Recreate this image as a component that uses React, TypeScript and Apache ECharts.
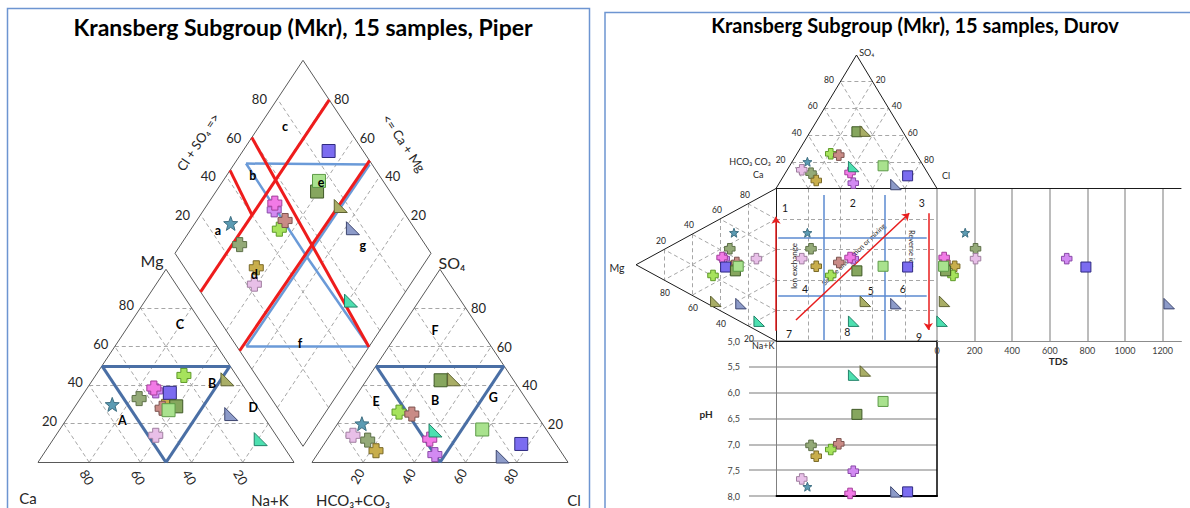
import React, { useEffect, useRef } from "react";
import * as echarts from "echarts";

// ---------------- sample chemistry (% of meq/L) ----------------
// order: star, 7 crosses, 3 squares, 3 triangles
const caPct = [56, 44, 47, 33.5, 20.5, 37.5, 35.5, 35.5, 30.5, 31.5, 35.5, 4.5, 12, 7];
const mgPct = [30, 33, 14, 31, 45, 28, 37, 38.5, 36, 29, 27, 43, 25, 12];
const naKPct = [14, 23, 39, 35.5, 34.5, 34.5, 27.5, 26, 33.5, 39.5, 37.5, 52.5, 63, 81];
const hco3Pct = [70.5, 72.5, 77, 72, 53, 48.5, 50, 48, 13.5, 28.5, 25, 23, 24, 43.5];
const so4Pct = [20, 11.5, 14, 6, 26, 25, 4, 12, 9.5, 42.5, 17, 43, 3, 16.5];
const clPct = [9.5, 16, 9, 22, 21, 26.5, 46, 40, 77, 29, 58, 34, 73, 40];
const tdsMgL = [150, 205, 205, 94, 85, 42, 690, 38, 792, 46, 35, 40, 1235, 27];
const phValue = [7.82, 7.02, 7.67, 7.23, 7.1, 6.99, 7.52, 7.95, 7.92, 6.42, 6.17, 5.58, 7.92, 5.66];

const markerKind = ["star", "cross", "cross", "cross", "cross", "cross", "cross", "cross", "square", "square", "square", "tri", "tri", "tri"];
const markerFill = ["#5b9bb3", "#94aa78", "#e8bfe8", "#c8ae4c", "#a6e35c", "#c98b86", "#d28af2", "#f27ae6", "#7b6cf0", "#86a65e", "#a9e28e", "#a9ae66", "#8d9bc9", "#4de0b0"];
const markerEdge = ["#3f6f82", "#5e7048", "#a07fa0", "#7a6a28", "#5f9a2a", "#7d5450", "#8a4aa8", "#a33f9a", "#2f2a80", "#3f5a26", "#5d9a48", "#5e6232", "#3d4670", "#23836a"];

// ---------------- axis ticks ----------------
const ternaryTicks = [20, 40, 60, 80];
const tdsMax = 1300;
const tdsStep = 200;
const phMin = 5;
const phMax = 8;
const phStep = 0.5;

// ---------------- classification zones ----------------
// Piper lower triangles (top component, right component)
const cationCentreZone: [number, number][] = [[50, 0], [50, 50], [0, 50]];
const anionCentreZone: [number, number][] = [[50, 0], [50, 50], [0, 50]];
// Piper diamond (Ca+Mg, Cl+SO4)
const diamondBlueUpper: [number, number][] = [[95.5, 51], [47, 99], [47.5, 50.6]];
const diamondBlueLower: [number, number][] = [[47.5, 50.6], [48, 3.7], [0, 51.6]];
const diamondRedLines: [number, number][][] = [
  [[80, 0], [79.5, 100]],
  [[49.5, 0], [48, 100]],
  [[100, 60], [0, 51.5]],
  [[100, 43], [80, 40]],
];
// Durov square (anion index, cation index)
const durovBlueX = [29.4, 67.7];
const durovBlueXSpan: [number, number] = [4.3, 99.3];
const durovBlueY = [32, 70.5];
const durovBlueYSpan: [number, number] = [1.4, 93.6];
const durovArrows: [number, number][][] = [
  [[0, 93.3], [0, 18.6]],
  [[12.4, 86.2], [82.8, 16.2]],
  [[94.6, 16.2], [94.6, 92.8]],
];

// ---------------- layout ----------------
const W = 1190;
const HT = 508;
const FONT = 'Lato, "Open Sans", "DejaVu Sans", sans-serif';

type Pt = [number, number];
type Seg = Pt[];

const P = { x0: 38, side: 256, h: 193, base: 462.3, gap: 18, lift: 16 };
const anX0 = P.x0 + P.side + P.gap;
const dB: Pt = [P.x0 + P.side + P.gap / 2, P.base - P.lift];

const D = { sqL: 776, sqT: 188.5, sqW: 161, sqH: 152.5, topH: 133.5, leftW: 140 };
const tdsWidth = tdsMax * 0.188;
const phHeight = 155;

const cat = (mg: number, na: number): Pt => [P.x0 + (P.side * (na + mg / 2)) / 100, P.base - (P.h * mg) / 100];
const an = (so4: number, cl: number): Pt => [anX0 + (P.side * (cl + so4 / 2)) / 100, P.base - (P.h * so4) / 100];
const dia = (u: number, v: number): Pt => [dB[0] + ((P.side / 2) * (v - u)) / 100, dB[1] - (P.h * (u + v)) / 100];
const durTop = (so4: number, cl: number): Pt => [D.sqL + (D.sqW * (cl + so4 / 2)) / 100, D.sqT - (D.topH * so4) / 100];
const durLeft = (mg: number, na: number): Pt => [D.sqL - (D.leftW * mg) / 100, D.sqT + (D.sqH * (na + mg / 2)) / 100];
const durSq = (ax: number, cy: number): Pt => [D.sqL + (D.sqW * ax) / 100, D.sqT + (D.sqH * cy) / 100];

function triGrid(proj: (a: number, b: number) => Pt): Seg[] {
  const s: Seg[] = [];
  for (const k of ternaryTicks) {
    s.push([proj(k, 0), proj(k, 100 - k)]);
    s.push([proj(0, k), proj(100 - k, k)]);
    s.push([proj(0, 100 - k), proj(100 - k, 0)]);
  }
  return s;
}
function closed(pts: Pt[]): Seg[] {
  return pts.map((p, i) => [p, pts[(i + 1) % pts.length]]);
}
function triOutline(proj: (a: number, b: number) => Pt): Seg[] {
  return closed([proj(0, 0), proj(0, 100), proj(100, 0)]);
}

function starPath(): string {
  const pts: string[] = [];
  for (let i = 0; i < 10; i++) {
    const r = i % 2 === 0 ? 50 : 21;
    const a = -Math.PI / 2 + (i * Math.PI) / 5;
    pts.push(`${(50 + r * Math.cos(a)).toFixed(2)},${(50 + r * Math.sin(a)).toFixed(2)}`);
  }
  return "path://M" + pts.join("L") + "Z";
}
const SYMBOLS: Record<string, string> = {
  star: starPath(),
  cross: "path://M28,0L72,0L72,28L100,28L100,72L72,72L72,100L28,100L28,72L0,72L0,28L28,28Z",
  square: "rect",
  tri: "path://M0,0L0,100L100,100Z",
};
const SIZE_PIPER: Record<string, number> = { star: 14, cross: 14, square: 13, tri: 13 };
const SIZE_DUROV: Record<string, number> = { star: 9, cross: 10.5, square: 10, tri: 10.5 };

function point(i: number, value: number[], sizes: Record<string, number>) {
  const k = markerKind[i];
  return {
    value,
    symbol: SYMBOLS[k],
    symbolSize: sizes[k],
    itemStyle: { color: markerFill[i], borderColor: markerEdge[i], borderWidth: 1, opacity: 1 },
  };
}

function txt(x: number, y: number, text: string, size: number, o: any = {}) {
  return {
    type: "text",
    x,
    y,
    rotation: o.rotation || 0,
    z: o.z ?? 1,
    silent: true,
    style: {
      text,
      fontSize: size,
      fontFamily: FONT,
      fontWeight: o.bold ? "bold" : "normal",
      fill: o.color || "#262626",
      align: o.align || "center",
      verticalAlign: "middle",
      textAlign: o.align || "center",
      textVerticalAlign: "middle",
    },
  };
}

function linesSeries(segs: Seg[], lineStyle: any, extra: any = {}) {
  return {
    type: "lines",
    coordinateSystem: "cartesian2d",
    xAxisIndex: 0,
    yAxisIndex: 0,
    silent: true,
    z: 3,
    lineStyle: { opacity: 1, curveness: 0, ...lineStyle },
    data: segs.map((c) => ({ coords: c })),
    ...extra,
  };
}

function buildOption() {
  const n = caPct.length;
  const anionIdx = clPct.map((c, i) => c + so4Pct[i] / 2);
  const cationIdx = naKPct.map((v, i) => v + mgPct[i] / 2);

  // ---- Piper geometry ----
  const piperGrid: Seg[] = [...triGrid(cat), ...triGrid(an)];
  for (const k of ternaryTicks) {
    piperGrid.push([dia(k, 0), dia(k, 100)]);
    piperGrid.push([dia(0, k), dia(100, k)]);
  }
  const piperFrame: Seg[] = [
    ...triOutline(cat),
    ...triOutline(an),
    ...closed([dia(0, 0), dia(100, 0), dia(100, 100), dia(0, 100)]),
  ];
  const piperBlueLow: Seg[] = [
    ...closed(cationCentreZone.map(([a, b]) => cat(a, b))),
    ...closed(anionCentreZone.map(([a, b]) => an(a, b))),
  ];
  const piperBlueDia: Seg[] = [
    ...closed(diamondBlueUpper.map(([u, v]) => dia(u, v))),
    ...closed(diamondBlueLower.map(([u, v]) => dia(u, v))),
  ];
  const piperRed: Seg[] = diamondRedLines.map((l) => l.map(([u, v]) => dia(u, v)));

  // ---- Durov geometry ----
  const durGrid: Seg[] = [...triGrid(durTop), ...triGrid(durLeft)];
  for (const k of ternaryTicks) {
    durGrid.push([durSq(k, 0), durSq(k, 100)]);
    durGrid.push([durSq(0, k), durSq(100, k)]);
  }
  const tdsRight = D.sqL + D.sqW + tdsWidth;
  const durFrame: Seg[] = [
    [durTop(0, 0), durTop(100, 0)],
    [durTop(100, 0), durTop(0, 100)],
    [durLeft(0, 0), durLeft(100, 0)],
    [durLeft(100, 0), durLeft(0, 100)],
    [durSq(0, 0), [tdsRight, D.sqT]],
    [durSq(0, 0), durSq(0, 100)],
    [durSq(0, 100), durSq(100, 100)],
  ];
  const durBlue: Seg[] = [
    ...durovBlueX.map((x) => [durSq(x, durovBlueXSpan[0]), durSq(x, durovBlueXSpan[1])] as Seg),
    ...durovBlueY.map((y) => [durSq(durovBlueYSpan[0], y), durSq(durovBlueYSpan[1], y)] as Seg),
  ];
  const durRed: Seg[] = durovArrows.map((a) => a.map(([x, y]) => durSq(x, y)));

  // ---- points ----
  const piperPts: any[] = [];
  const durovPts: any[] = [];
  const tdsPts: any[] = [];
  const phPts: any[] = [];
  for (let i = 0; i < n; i++) {
    piperPts.push(point(i, cat(mgPct[i], naKPct[i]), SIZE_PIPER));
    piperPts.push(point(i, an(so4Pct[i], clPct[i]), SIZE_PIPER));
    piperPts.push(point(i, dia(100 - naKPct[i], clPct[i] + so4Pct[i]), SIZE_PIPER));
    durovPts.push(point(i, durTop(so4Pct[i], clPct[i]), SIZE_DUROV));
    durovPts.push(point(i, durLeft(mgPct[i], naKPct[i]), SIZE_DUROV));
    durovPts.push(point(i, durSq(anionIdx[i], cationIdx[i]), SIZE_DUROV));
    tdsPts.push(point(i, [tdsMgL[i], cationIdx[i]], SIZE_DUROV));
    phPts.push(point(i, [anionIdx[i], phValue[i]], SIZE_DUROV));
  }

  // ---- texts ----
  const g: any[] = [];
  g.push({ type: "rect", silent: true, z: 0, shape: { x: 7.5, y: 8.5, width: 582, height: 510 }, style: { fill: "none", stroke: "#6d95d1", lineWidth: 1.5 } });
  g.push({ type: "rect", silent: true, z: 0, shape: { x: 605, y: 12.5, width: 590, height: 510 }, style: { fill: "none", stroke: "#6d95d1", lineWidth: 1.5 } });

  g.push(txt(303, 27, "Kransberg Subgroup (Mkr), 15 samples, Piper", 23, { bold: true, color: "#000" }));
  g.push(txt(915, 25, "Kransberg Subgroup (Mkr), 15 samples, Durov", 20, { bold: true, color: "#000" }));

  // Piper axis names
  g.push(txt(152, 260, "Mg", 16));
  g.push(txt(452, 262, "SO₄", 16));
  g.push(txt(28, 498, "Ca", 15));
  g.push(txt(270, 500, "Na+K", 15));
  g.push(txt(353, 500, "HCO₃+CO₃", 15));
  g.push(txt(574, 500, "Cl", 15));
  const edgeAng = Math.atan2(P.h, P.side / 2);
  g.push(txt(198, 142, "Cl + SO₄ =>", 13, { rotation: edgeAng }));
  g.push(txt(404, 143, "<= Ca + Mg", 13, { rotation: -edgeAng }));

  // Piper tick labels
  for (const k of ternaryTicks) {
    const c1 = cat(k, 0);
    g.push(txt(c1[0] - 14, c1[1] - 3, String(k), 13));
    const c2 = cat(0, k);
    g.push(txt(c2[0] - 2, c2[1] + 15, String(100 - k), 13, { rotation: -Math.PI / 3 }));
    const a1 = an(0, k);
    g.push(txt(a1[0] - 6, a1[1] + 14, String(k), 13, { rotation: Math.PI / 3 }));
    const a2 = an(k, 100 - k);
    g.push(txt(a2[0] + 13, a2[1], String(k), 13));
    const d1 = dia(100, k);
    g.push(txt(d1[0] - 18, d1[1], String(k), 13));
    const d2 = dia(k, 100);
    g.push(txt(d2[0] + 13, d2[1], String(k), 13));
  }

  // Piper zone letters
  const zoneLetters: [number, number, string][] = [
    [218, 230, "a"], [252.7, 175, "b"], [285, 126.7, "c"], [254.3, 274, "d"], [321, 182.7, "e"], [300, 343.3, "f"], [362.7, 245, "g"],
    [180, 324, "C"], [122.3, 420, "A"], [212, 383.3, "B"], [253.3, 407.3, "D"],
    [435, 330, "F"], [376, 401.7, "E"], [435, 400, "B"], [493.3, 397.7, "G"],
  ];
  for (const [x, y, s] of zoneLetters) g.push(txt(x, y, s, 12.5, { bold: true, color: "#000", z: 10 }));

  // Durov labels
  g.push(txt(866.7, 52.3, "SO₄", 9));
  g.push(txt(750, 161.7, "HCO₃ CO₃", 9));
  g.push(txt(758.3, 174.3, "Ca", 9));
  g.push(txt(946, 175, "Cl", 9));
  g.push(txt(617, 268.3, "Mg", 10.5));
  g.push(txt(763.3, 345.7, "Na+K", 9));
  g.push(txt(706, 414, "pH", 10, { bold: true }));
  g.push(txt(1058.3, 361, "TDS", 10, { bold: true }));
  for (const k of ternaryTicks) {
    const t1 = durTop(k, 0);
    g.push(txt(t1[0] - 11.5, t1[1] - 2, String(k), 8.5));
    const t2 = durTop(100 - k, k);
    g.push(txt(t2[0] + 8, t2[1] - 2, String(k), 8.5));
    const l1 = durLeft(k, 0);
    g.push(txt(l1[0] - 3, l1[1] - 9, String(100 - k), 8.5));
    const l2 = durLeft(k, 100 - k);
    g.push(txt(l2[0] + 1, l2[1] + 13, String(k), 8.5));
  }
  const fieldNumbers: [number, number, string][] = [
    [785, 207.7, "1"], [852.7, 203.3, "2"], [921.7, 203.3, "3"],
    [805, 289, "4"], [870.7, 291, "5"], [902.7, 289, "6"],
    [789, 334.3, "7"], [847.3, 331.7, "8"], [919, 336.7, "9"],
  ];
  for (const [x, y, s] of fieldNumbers) g.push(txt(x, y, s, 10.5, { color: "#1a1a1a" }));
  g.push(txt(794.3, 266, "Ion exchange", 8, { rotation: Math.PI / 2 }));
  g.push(txt(853.3, 254, "Simple dissolution or mixing", 7, { rotation: 0.77 }));
  g.push(txt(911.7, 230, "Reverse ion", 7.5, { rotation: -Math.PI / 2, align: "left" }));

  const gridDash = { color: "#a6a6a6", width: 1, type: [4, 3] };

  return {
    animation: false,
    backgroundColor: "#ffffff",
    textStyle: { fontFamily: FONT },
    grid: [
      { left: 0, top: 0, width: W, height: HT, show: false },
      { left: D.sqL + D.sqW, top: D.sqT, width: tdsWidth, height: D.sqH, show: false },
      { left: D.sqL, top: D.sqT + D.sqH, width: D.sqW, height: phHeight, show: false },
    ],
    xAxis: [
      { gridIndex: 0, type: "value", min: 0, max: W, show: false },
      {
        gridIndex: 1, type: "value", min: 0, max: tdsMax, interval: tdsStep,
        axisLine: { show: true, onZero: false, lineStyle: { color: "#8c8c8c", width: 1 } },
        axisTick: { show: false },
        axisLabel: { fontSize: 9, color: "#404040", margin: 5, showMaxLabel: false, fontFamily: FONT, formatter: (v: number) => String(v) },
        splitLine: { show: true, showMaxLine: false, lineStyle: { color: "#a6a6a6", width: 1.5 } },
      },
      {
        gridIndex: 2, type: "value", min: 0, max: 100,
        axisLine: { show: true, onZero: false, lineStyle: { color: "#000", width: 2 } },
        axisTick: { show: false }, axisLabel: { show: false }, splitLine: { show: false },
      },
    ],
    yAxis: [
      { gridIndex: 0, type: "value", min: 0, max: HT, inverse: true, show: false },
      { gridIndex: 1, type: "value", min: 0, max: 100, inverse: true, show: false },
      {
        gridIndex: 2, type: "value", min: phMin, max: phMax, interval: phStep, inverse: true,
        axisLine: { show: true, onZero: false, lineStyle: { color: "#808080", width: 1 } },
        axisTick: { show: true, length: 27, lineStyle: { color: "#a6a6a6", width: 1.5 } },
        axisLabel: { margin: 36, fontSize: 9, color: "#404040", fontFamily: FONT, formatter: (v: number) => v.toFixed(1).replace(".", ",") },
        splitLine: { show: true, lineStyle: { color: "#a6a6a6", width: 1.5 } },
      },
      {
        gridIndex: 2, type: "value", min: phMin, max: phMax, inverse: true, position: "right",
        axisLine: { show: true, onZero: false, lineStyle: { color: "#000", width: 1.5 } },
        axisTick: { show: false }, axisLabel: { show: false }, splitLine: { show: false },
      },
    ],
    graphic: g,
    series: [
      linesSeries(piperGrid, gridDash),
      linesSeries(piperFrame, { color: "#595959", width: 1 }),
      linesSeries(piperBlueLow, { color: "#4a6fa5", width: 3 }),
      linesSeries(piperBlueDia, { color: "#6a9ad8", width: 2.5 }),
      linesSeries(piperRed, { color: "#ee1c1c", width: 3 }),
      linesSeries(durGrid, gridDash),
      linesSeries(durFrame, { color: "#1a1a1a", width: 1 }),
      linesSeries(durBlue, { color: "#5b8ad0", width: 1.5 }),
      linesSeries(durRed, { color: "#e81e1e", width: 1.5 }, { symbol: ["none", "arrow"], symbolSize: 7 }),
      { type: "scatter", xAxisIndex: 0, yAxisIndex: 0, z: 5, silent: true, data: piperPts },
      { type: "scatter", xAxisIndex: 0, yAxisIndex: 0, z: 5, silent: true, data: durovPts },
      { type: "scatter", xAxisIndex: 1, yAxisIndex: 1, z: 5, silent: true, clip: false, data: tdsPts },
      { type: "scatter", xAxisIndex: 2, yAxisIndex: 2, z: 5, silent: true, clip: false, data: phPts },
    ],
  };
}

export default function App() {
  const ref = useRef<HTMLDivElement>(null);
  useEffect(() => {
    if (!ref.current) return;
    const chart = echarts.init(ref.current, undefined, { renderer: "svg" });
    chart.setOption(buildOption() as any);
    return () => chart.dispose();
  }, []);
  return (
    <div
      ref={ref}
      style={{ position: "fixed", left: 0, top: 0, width: W, height: HT, background: "#fff" }}
    />
  );
}
